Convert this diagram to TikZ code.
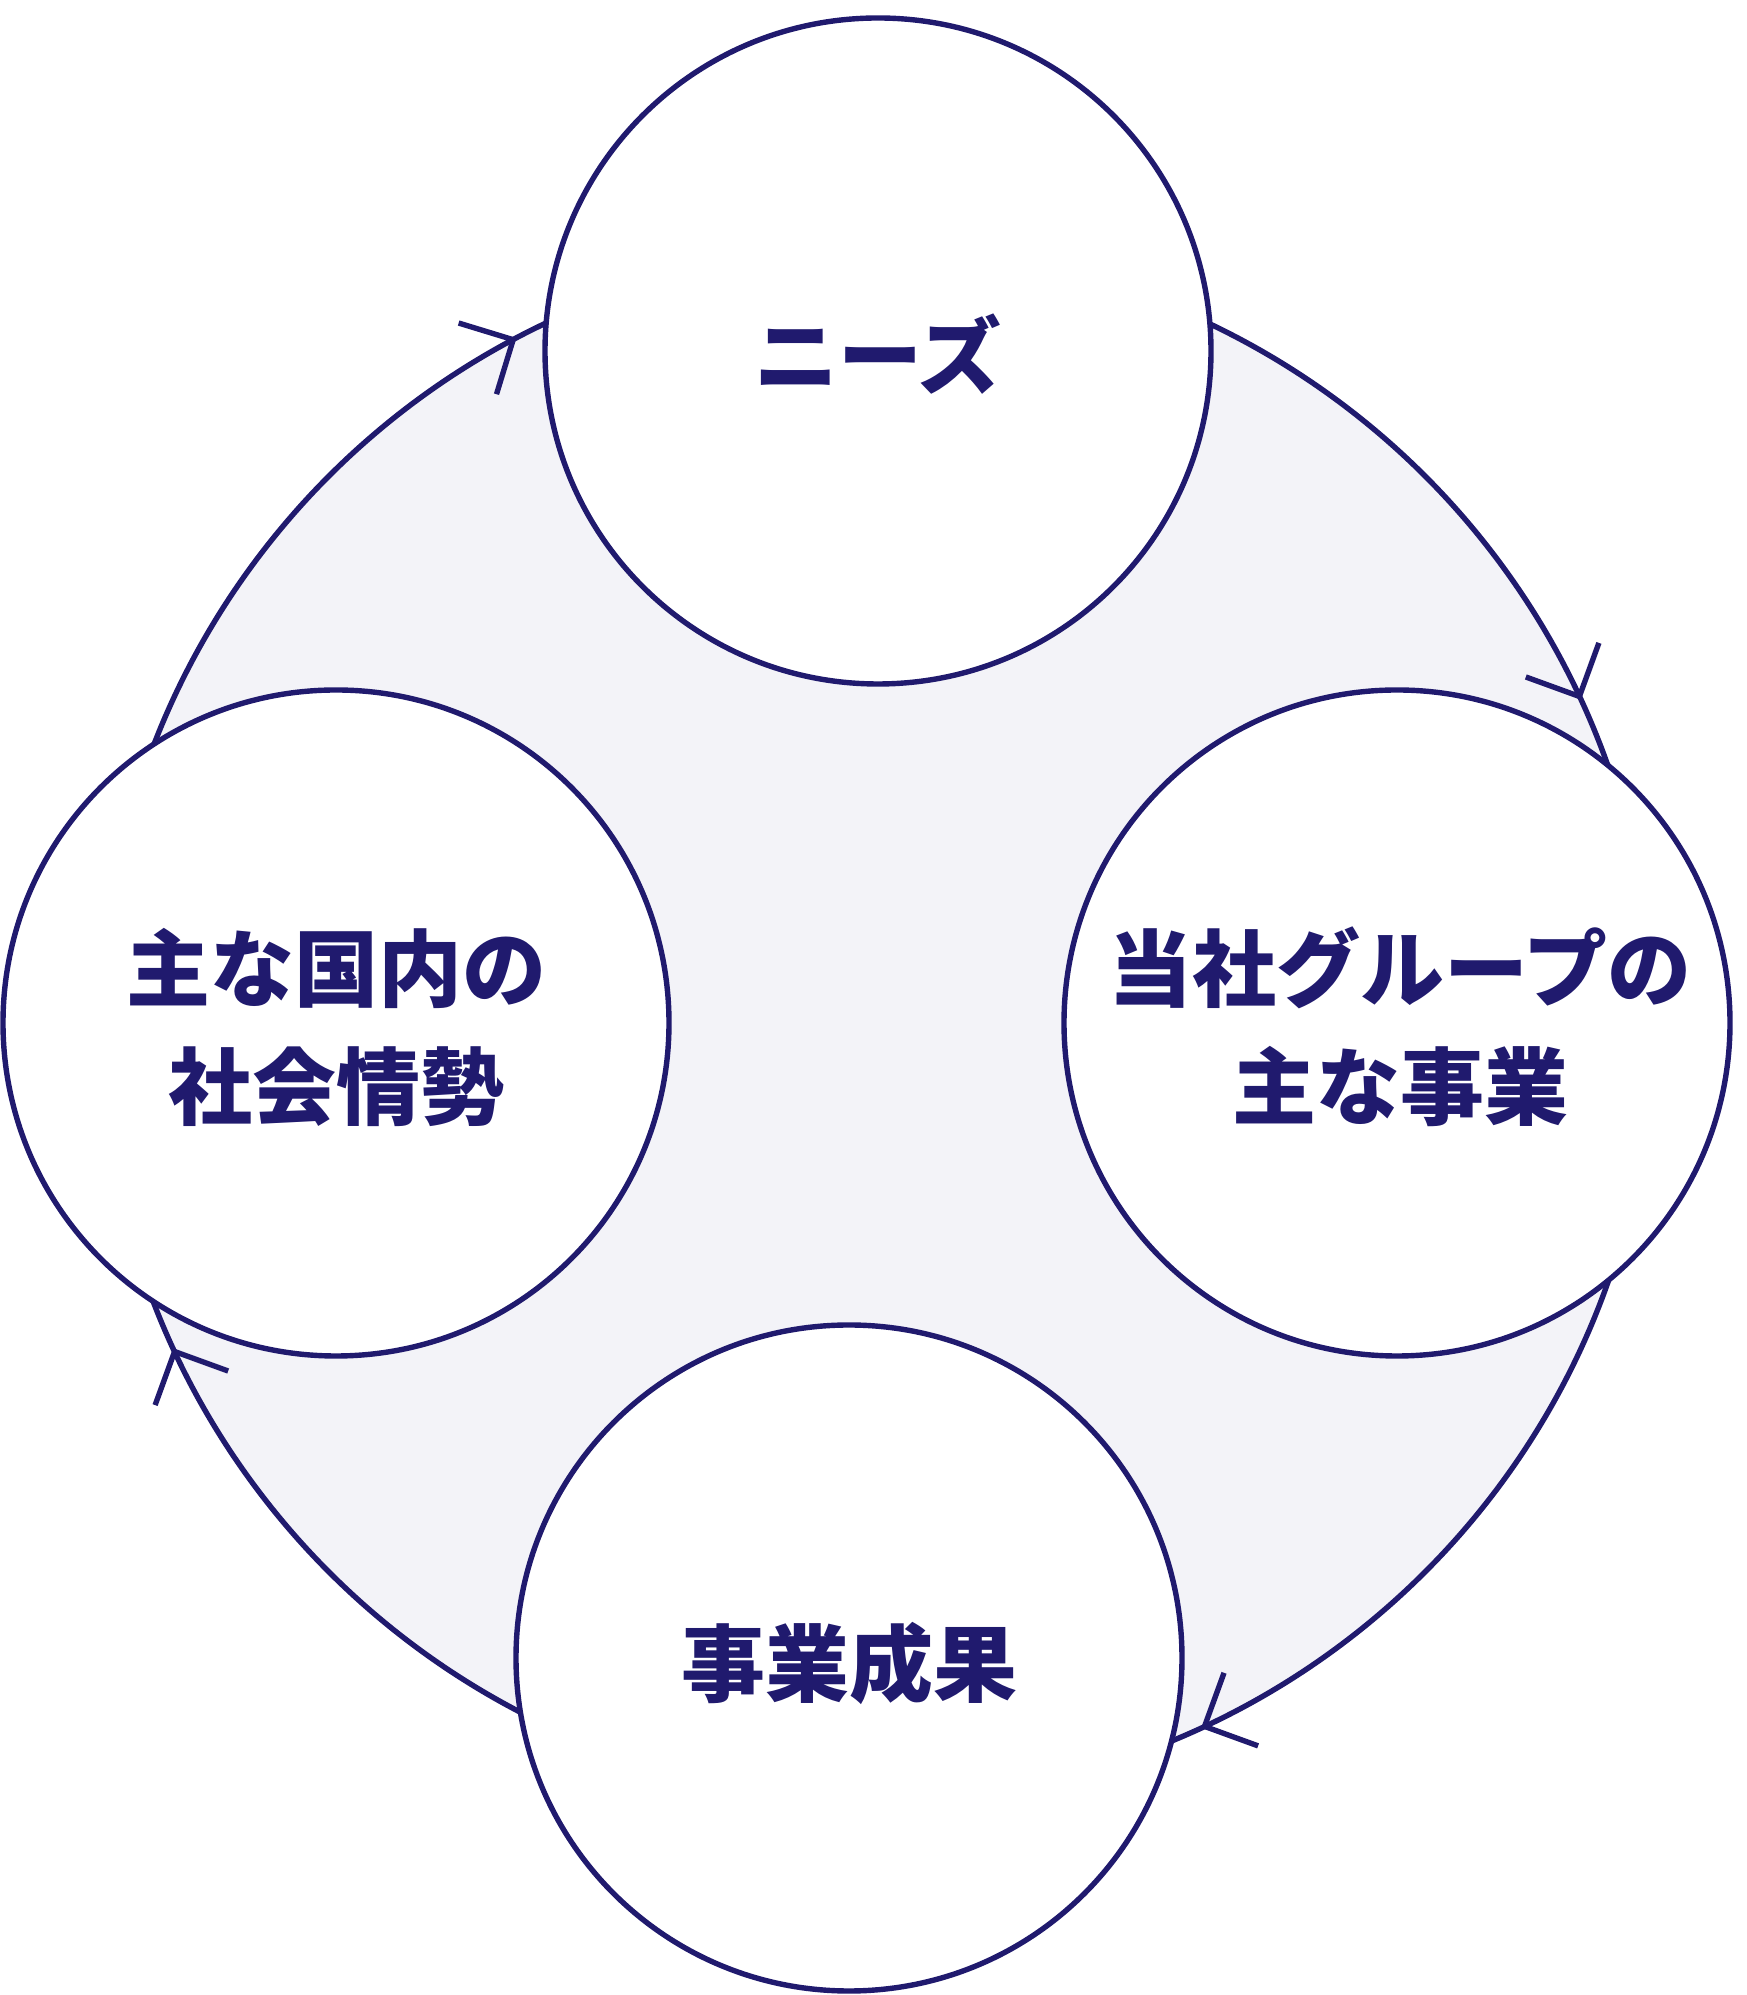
\documentclass[tikz,border=0pt]{standalone}
\usepackage{fontspec}
\newfontfamily\jp{Noto Sans CJK JP}
\definecolor{navy}{RGB}{32,26,110}
\definecolor{lav}{RGB}{243,243,248}
\begin{document}
\begin{tikzpicture}[x=1pt,y=1pt,
  bubble/.style={circle,draw=navy,line width=5.4pt,fill=white,minimum size=666pt,inner sep=0pt},
  label/.style={text=navy,align=center,font=\jp\bfseries\fontsize{84}{118}\selectfont},
  ringstyle/.style={circle,draw=navy,line width=5.4pt,fill=lav,minimum size=1550pt,inner sep=0pt},
  chev/.style={draw=navy,line width=5.4pt}]
\useasboundingbox (0,0) rectangle (1746,1995);
\node[ringstyle] (ring) at (877,971) {};
\node[bubble] (needs) at (878,1644) {};
\node[bubble] (biz) at (1397,972) {};
\node[bubble] (soc) at (336,972) {};
\node[bubble] (res) at (849,337) {};
\node[label] (needsT) at ([yshift=-3pt]needs.center) {ニーズ};
\node[label] (bizT) at ([xshift=3pt,yshift=-4pt]biz.center) {当社グループの\\主な事業};
\node[label] (socT) at ([yshift=-4pt]soc.center) {主な国内の\\社会情勢};
\node[label] (resT) at ([yshift=-5pt]res.center) {事業成果};
\foreach \a/\n in {118/t1,25/t2,-65/t3,205/t4}{
  \coordinate (\n) at ([shift={(\a:775)}]ring.center);
  \draw[chev] ([shift={(\a+45:57)}]\n) -- (\n) -- ([shift={(\a+135:57)}]\n);
}
\end{tikzpicture}
\end{document}
